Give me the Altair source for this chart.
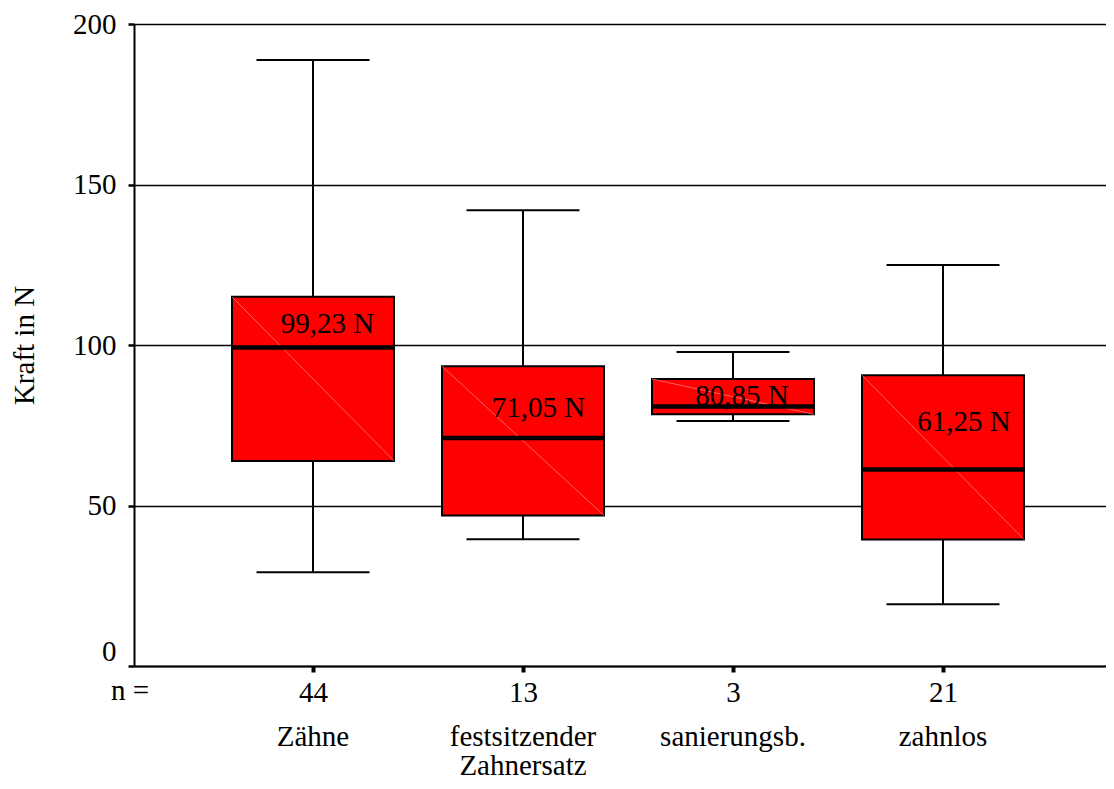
import altair as alt
import pandas as pd

# ---- data ----
categories = ["Zähne", "festsitzender\nZahnersatz", "sanierungsb.", "zahnlos"]
n_values = [44, 13, 3, 21]
whisker_low = [29.2, 39.5, 76.3, 19.2]
q1 = [63.9, 46.9, 78.4, 39.4]
median = [99.23, 71.05, 80.85, 61.25]
q3 = [115.0, 93.4, 89.4, 90.6]
whisker_high = [188.8, 142.0, 97.8, 124.9]
median_labels = ["99,23 N", "71,05 N", "80,85 N", "61,25 N"]
# annotation anchors (data units): horizontal offset from the box centre, and height
label_dx = [0.069, 0.074, 0.043, 0.100]
label_y = [103.7, 77.5, 81.3, 73.1]
y_ticks = [0, 50, 100, 150, 200]

FONT = "Liberation Serif"
FS = 29
BOX_HALF = 0.3857
CAP_HALF = 0.269

df = pd.DataFrame({
    "pos": list(range(1, len(categories) + 1)),
    "cat": categories,
    "n": n_values,
    "lo": whisker_low,
    "q1": q1,
    "med": median,
    "q3": q3,
    "hi": whisker_high,
    "lab": median_labels,
    "ldx": label_dx,
    "ly": label_y,
})

n_expr = "[" + ",".join(f"'{v}'" for v in n_values) + "][datum.value - 1]"

xscale = alt.Scale(domain=[0.1476, 4.7762], nice=False, zero=False)
yscale = alt.Scale(domain=[0, 200], nice=False)

x_axis = alt.Axis(
    values=[1, 2, 3, 4], labelExpr=n_expr, title=None, grid=False, ticks=True,
    domainColor="black", domainWidth=2, tickColor="black", tickWidth=4, tickSize=6,
    labelFont=FONT, labelFontSize=FS, labelColor="black", labelPadding=6,
)
y_axis = alt.Axis(
    values=y_ticks, title="Kraft in N", grid=True, gridColor="black", gridWidth=1.6,
    ticks=True, domainColor="black", domainWidth=2, tickColor="black", tickWidth=2.5, tickSize=6,
    labelFont=FONT, labelFontSize=FS, labelColor="black", labelPadding=12,
    labelBaseline={"condition": {"test": "datum.value == 0", "value": "bottom"}, "value": "middle"},
    titleFont=FONT, titleFontSize=FS, titleFontWeight="normal", titleColor="black",
    titleX=-110, titleY=321, titleAngle=270, titleBaseline="middle", titleAlign="center",
)

base = alt.Chart(df).transform_calculate(
    xl=f"datum.pos - {BOX_HALF}", xr=f"datum.pos + {BOX_HALF}",
    cl=f"datum.pos - {CAP_HALF}", cr=f"datum.pos + {CAP_HALF}",
    lx="datum.pos + datum.ldx",
)

whisker = base.mark_rule(color="black", strokeWidth=2).encode(
    x=alt.X("pos:Q", scale=xscale, axis=x_axis),
    y=alt.Y("lo:Q", scale=yscale, axis=y_axis),
    y2="hi:Q",
)
cap_hi = base.mark_rule(color="black", strokeWidth=2).encode(
    x=alt.X("cl:Q", scale=xscale), x2="cr:Q", y=alt.Y("hi:Q", scale=yscale)
)
cap_lo = base.mark_rule(color="black", strokeWidth=2).encode(
    x=alt.X("cl:Q", scale=xscale), x2="cr:Q", y=alt.Y("lo:Q", scale=yscale)
)
box = base.mark_bar(color="#ff0000", stroke="black", strokeWidth=2).encode(
    x=alt.X("xl:Q", scale=xscale), x2="xr:Q",
    y=alt.Y("q1:Q", scale=yscale), y2="q3:Q",
)
diag = base.mark_rule(color="#ff7a7a", strokeWidth=0.8).encode(
    x=alt.X("xl:Q", scale=xscale), x2="xr:Q",
    y=alt.Y("q3:Q", scale=yscale), y2="q1:Q",
)
med = base.mark_rule(color="black", strokeWidth=4.5).encode(
    x=alt.X("xl:Q", scale=xscale), x2="xr:Q", y=alt.Y("med:Q", scale=yscale)
)
labels = base.mark_text(font=FONT, fontSize=FS, color="black", align="center",
                        baseline="alphabetic").encode(
    x=alt.X("lx:Q", scale=xscale), y=alt.Y("ly:Q", scale=yscale), text="lab:N"
)
cats = base.mark_text(font=FONT, fontSize=FS, color="black", align="center",
                      baseline="alphabetic", lineBreak="\n", lineHeight=29).encode(
    x=alt.X("pos:Q", scale=xscale), y=alt.value(722), text="cat:N"
)
n_label = alt.Chart(pd.DataFrame({"t": ["n ="]})).mark_text(
    font=FONT, fontSize=FS, color="black", align="center", baseline="alphabetic"
).encode(x=alt.value(-4), y=alt.value(676), text="t:N")

chart = alt.layer(whisker, cap_hi, cap_lo, box, diag, med, labels, cats, n_label).properties(
    width=972, height=642,
    autosize=alt.AutoSizeParams(type="none"),
    padding={"left": 126, "top": 16, "right": 0, "bottom": 115},
).configure_view(stroke=None).configure(background="white")

chart.save("out.html", embed_options={"renderer": "svg", "actions": False})
